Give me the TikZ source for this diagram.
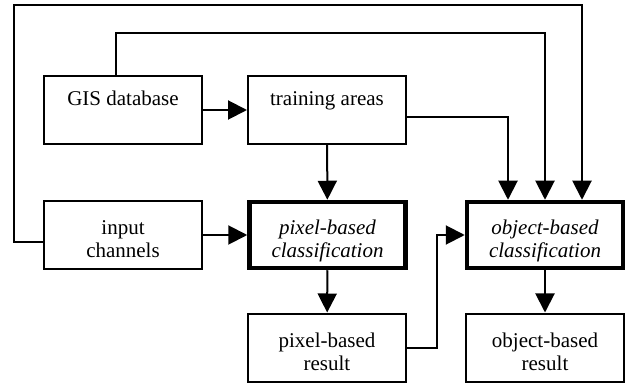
\documentclass[tikz,border=0pt]{standalone}
\usepackage{fontspec}
\setmainfont{Liberation Serif}[ItalicFont={Liberation Serif Italic}]
\usetikzlibrary{arrows.meta}
\begin{document}
\begin{tikzpicture}[x=1pt,y=-1pt,
  box/.style={draw, line width=2pt, minimum width=158pt, minimum height=68pt, inner sep=0pt, align=center,
    text height=53pt, text depth=7pt, font=\fontsize{21}{23}\selectfont},
  onebox/.style={box, text height=7pt, text depth=15pt},
  thickbox/.style={box, line width=4.5pt, minimum width=156pt, minimum height=66pt, font=\fontsize{21}{23}\selectfont\itshape},
  conn/.style={draw, line width=2pt, -{Triangle[length=19pt,width=19pt]}}]
\useasboundingbox (0,0) rectangle (629,387);
\node[onebox] (gis) at (123,110) {GIS database};
\node[onebox] (train) at (327,110) {training areas};
\node[box] (input) at (123,235) {input\\channels};
\node[thickbox] (pixc) at (327.5,235) {pixel-based\\classification};
\node[thickbox] (objc) at (545,235) {object-based\\classification};
\node[box] (pixr) at (327,347.5) {pixel-based\\result};
\node[box] (objr) at (545,347.5) {object-based\\result};
\coordinate (top1) at (116,33);
\coordinate (top2) at (14,5);
\coordinate (mid) at (437,347.5);
\draw[conn] (gis) -- (train);
\draw[conn] (input) -- (pixc);
\draw[conn] (train) -- (pixc);
\draw[conn] (pixc) -- (pixr);
\draw[conn] (objc) -- (objr);
\draw[conn] ([yshift=-7pt]train.east) -| ([xshift=-37pt]objc.north);
\draw[conn] (gis.north -| top1) |- (top1) -| (objc.north);
\draw[conn] ([yshift=-7pt]input.west) -| (top2) -| ([xshift=37pt]objc.north);
\draw[conn] (pixr.east) -- (mid) |- (objc.west);
\end{tikzpicture}
\end{document}
